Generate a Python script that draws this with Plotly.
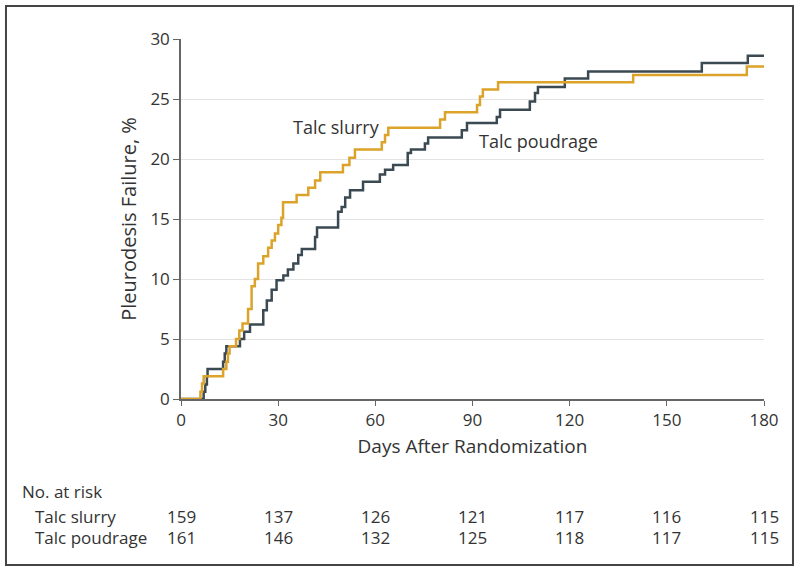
import plotly.graph_objects as go

# Step data (day, cumulative pleurodesis failure %)
slurry_days = [0, 6.0, 6.5, 7.0, 13.0, 14.0, 14.5, 15.0, 17.0, 18.0, 19.0, 20.7, 21.8, 22.8,
               23.8, 25.4, 26.9, 28.0, 29.0, 30.0, 31.0, 31.5, 35.7, 39.3, 41.4, 43.0, 50.0,
               52.0, 53.7, 62.0, 63.0, 64.0, 80.0, 81.5, 91.4, 92.3, 93.2, 97.9, 139.6, 174.7, 180]
slurry_pct = [0, 0.6, 1.3, 1.9, 2.5, 3.1, 3.8, 4.4, 5.0, 5.7, 6.3, 7.5, 9.4, 10.0,
              11.3, 11.9, 12.6, 13.2, 13.8, 14.5, 15.1, 16.4, 17.0, 17.6, 18.2, 18.9, 19.5,
              20.1, 20.8, 21.4, 22.0, 22.6, 23.3, 23.9, 24.5, 25.2, 25.8, 26.4, 27.0, 27.7, 27.7]

poudrage_days = [0, 7.0, 7.5, 8.0, 8.2, 13.0, 13.5, 14.0, 18.2, 19.5, 21.3, 25.4, 26.5, 28.0,
                 29.5, 31.6, 33.0, 34.7, 36.2, 37.3, 41.4, 42.0, 48.5, 49.6, 50.7, 52.2, 56.2,
                 61.4, 63.0, 65.5, 70.0, 71.0, 75.3, 76.3, 86.7, 88.3, 97.5, 98.5, 107.7, 109.3,
                 110.2, 118.5, 125.7, 160.8, 175.0, 180]
poudrage_pct = [0, 0.6, 1.2, 1.9, 2.5, 3.1, 3.8, 4.4, 5.0, 5.6, 6.2, 7.4, 8.2, 9.1,
                9.9, 10.3, 10.8, 11.3, 12.0, 12.5, 13.5, 14.3, 15.6, 16.0, 16.8, 17.4, 18.1,
                18.7, 19.1, 19.5, 20.5, 20.8, 21.3, 21.8, 22.4, 23.0, 23.5, 24.1, 24.8, 25.5,
                26.0, 26.7, 27.3, 28.0, 28.6, 28.6]

risk_days = [0, 30, 60, 90, 120, 150, 180]
risk_slurry = [159, 137, 126, 121, 117, 116, 115]
risk_poudrage = [161, 146, 132, 125, 118, 117, 115]

GOLD = "#DCA32A"
DARK = "#3B4A52"
TEXT = "#333333"
FONT = "Open Sans"

fig = go.Figure()
fig.add_trace(go.Scatter(x=poudrage_days, y=poudrage_pct, mode="lines",
                         line=dict(color=DARK, width=2.5, shape="hv"), name="Talc poudrage"))
fig.add_trace(go.Scatter(x=slurry_days, y=slurry_pct, mode="lines",
                         line=dict(color=GOLD, width=2.5, shape="hv"), name="Talc slurry"))

annotations = [
    dict(x=47.9, y=22.7, xref="x", yref="y", text="Talc slurry", showarrow=False,
         font=dict(size=18, color=TEXT, family=FONT)),
    dict(x=110.5, y=21.5, xref="x", yref="y", text="Talc poudrage", showarrow=False,
         font=dict(size=18, color=TEXT, family=FONT)),
    dict(x=-0.276, y=-0.258, xref="paper", yref="paper", text="No. at risk", showarrow=False,
         xanchor="left", yanchor="middle", font=dict(size=17, color=TEXT, family=FONT)),
    dict(x=-0.254, y=-0.325, xref="paper", yref="paper", text="Talc slurry", showarrow=False,
         xanchor="left", yanchor="middle", font=dict(size=17, color=TEXT, family=FONT)),
    dict(x=-0.254, y=-0.386, xref="paper", yref="paper", text="Talc poudrage", showarrow=False,
         xanchor="left", yanchor="middle", font=dict(size=17, color=TEXT, family=FONT)),
]
for d, s, p in zip(risk_days, risk_slurry, risk_poudrage):
    annotations.append(dict(x=d, y=-0.325, xref="x", yref="paper", text=str(s), showarrow=False,
                            xanchor="center", yanchor="middle",
                            font=dict(size=17, color=TEXT, family=FONT)))
    annotations.append(dict(x=d, y=-0.386, xref="x", yref="paper", text=str(p), showarrow=False,
                            xanchor="center", yanchor="middle",
                            font=dict(size=17, color=TEXT, family=FONT)))

fig.update_layout(
    width=802, height=577,
    margin=dict(l=181, r=38, t=39, b=178),
    paper_bgcolor="white", plot_bgcolor="white",
    showlegend=False, hovermode=False,
    font=dict(family=FONT, color=TEXT, size=17),
    annotations=annotations,
    shapes=[dict(type="rect", xref="paper", yref="paper", x0=-0.3002, x1=1.0497,
                 y0=-0.4611, y1=1.0917, line=dict(color="#444444", width=2), layer="below")],
)
fig.update_xaxes(range=[0, 180], tickvals=risk_days, ticks="outside", ticklen=5,
                 tickcolor="#666666", showline=True, linecolor="#666666", linewidth=1.5,
                 showgrid=False, zeroline=False, tickfont=dict(size=17, color=TEXT),
                 title=dict(text="Days After Randomization", font=dict(size=19, color=TEXT),
                            standoff=10))
fig.update_yaxes(range=[0, 30], tickvals=[0, 5, 10, 15, 20, 25, 30], ticks="outside", ticklen=6,
                 tickcolor="#666666", showline=True, linecolor="#666666", linewidth=1.5,
                 showgrid=True, gridcolor="#E3E3E3", gridwidth=1.2, zeroline=False,
                 tickfont=dict(size=17, color=TEXT),
                 title=dict(text="Pleurodesis Failure, %", font=dict(size=20, color=TEXT),
                            standoff=8))

fig.write_html("out.html", config={"displayModeBar": False},
               post_script="document.body.style.margin='0px';document.body.style.overflow='hidden';")
